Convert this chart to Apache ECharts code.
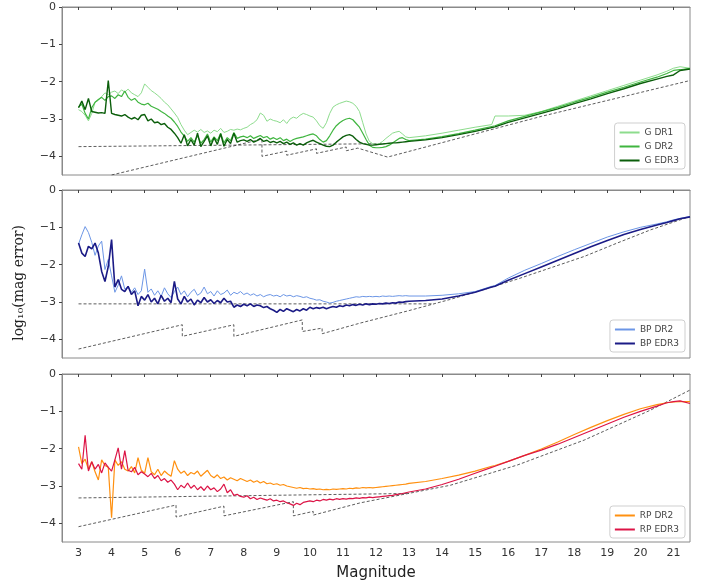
<!DOCTYPE html>
<html>
<head>
<meta charset="utf-8">
<script src="https://cdn.jsdelivr.net/npm/echarts@6/dist/echarts.min.js"></script>
<style>
  html, body { margin: 0; padding: 0; background: #fff; }
  #chart { width: 708px; height: 583px; }
</style>
</head>
<body>
<div id="chart"></div>
<script>
// magnitude grid shared by all curves
var mags = [
  3.0, 3.1, 3.2, 3.3, 3.4, 3.5, 3.6, 3.7, 3.8, 3.9,
  4.0, 4.1, 4.2, 4.3, 4.4, 4.5, 4.6, 4.7, 4.8, 4.9,
  5.0, 5.1, 5.2, 5.3, 5.4, 5.5, 5.6, 5.7, 5.8, 5.9,
  6.0, 6.1, 6.2, 6.3, 6.4, 6.5, 6.6, 6.7, 6.8, 6.9,
  7.0, 7.1, 7.2, 7.3, 7.4, 7.5, 7.6, 7.7, 7.8, 7.9,
  8.0, 8.1, 8.2, 8.3, 8.4, 8.5, 8.6, 8.7, 8.8, 8.9,
  9.0, 9.1, 9.2, 9.3, 9.4, 9.5, 9.6, 9.7, 9.8, 9.9,
  10.0, 10.1, 10.2, 10.3, 10.4, 10.5, 10.6, 10.7, 10.8, 10.9,
  11.0, 11.1, 11.2, 11.3, 11.4, 11.5, 11.6, 11.7, 11.8, 11.9,
  12.0, 12.1, 12.2, 12.3, 12.4, 12.5, 12.6, 12.7, 12.8, 12.9,
  13.0,
  13.5, 14, 14.5, 15, 15.5, 15.6, 16, 16.5, 17, 17.5, 18, 18.5, 19, 19.5, 20, 20.5, 20.8, 21, 21.2, 21.5
];

// G band
var gDR1 = [
  -2.75, -2.80, -2.90, -3.05, -2.85, -2.55, -2.50, -2.40, -2.30, -2.35,
  -2.28, -2.25, -2.32, -2.22, -2.28, -2.20, -2.30, -2.35, -2.40, -2.30,
  -2.06, -2.15, -2.24, -2.30, -2.37, -2.45, -2.55, -2.62, -2.73, -2.84,
  -2.96, -3.15, -3.30, -3.42, -3.36, -3.30, -3.35, -3.28, -3.36, -3.32,
  -3.38, -3.30, -3.34, -3.25, -3.36, -3.33, -3.28, -3.30, -3.27, -3.29,
  -3.25, -3.22, -3.15, -3.10, -3.02, -2.84, -2.90, -3.06, -3.00, -3.04,
  -3.06, -3.10, -3.02, -3.12, -3.00, -2.95, -2.98, -2.90, -2.85, -2.88,
  -2.92, -2.95, -3.05, -3.18, -3.25, -3.10, -2.85, -2.68, -2.62, -2.58,
  -2.55, -2.52, -2.54, -2.58, -2.66, -2.80, -3.10, -3.40, -3.60, -3.66,
  -3.68, -3.66, -3.60, -3.52, -3.45, -3.38, -3.35, -3.33, -3.40, -3.48,
  -3.50,
  -3.45, -3.38, -3.30, -3.22, -3.15, -2.92, -2.92, -2.90, -2.80, -2.66, -2.52, -2.38, -2.24, -2.10, -1.96, -1.82, -1.72, -1.64, -1.60, -1.64
];
var gDR2 = [
  -2.68, -2.60, -2.85, -3.00, -2.70, -2.55, -2.48, -2.42, -2.50, -2.40,
  -2.38, -2.45, -2.35, -2.40, -2.25, -2.42, -2.50, -2.45, -2.55, -2.60,
  -2.62, -2.58, -2.66, -2.70, -2.74, -2.80, -2.85, -2.92, -2.98, -3.08,
  -3.20, -3.35, -3.46, -3.60, -3.50, -3.62, -3.45, -3.65, -3.55, -3.40,
  -3.62, -3.48, -3.58, -3.38, -3.64, -3.50, -3.58, -3.36, -3.52, -3.48,
  -3.46, -3.50, -3.45, -3.52, -3.48, -3.44, -3.50, -3.47, -3.54, -3.50,
  -3.55, -3.50, -3.58, -3.54, -3.60, -3.55, -3.52, -3.50, -3.48, -3.45,
  -3.42, -3.40, -3.45, -3.55, -3.62, -3.58, -3.45, -3.30, -3.18, -3.10,
  -3.04, -3.00, -2.98, -3.02, -3.12, -3.22, -3.38, -3.55, -3.70, -3.76,
  -3.77, -3.77, -3.76, -3.74, -3.70, -3.64, -3.58, -3.52, -3.50, -3.55,
  -3.58,
  -3.54, -3.47, -3.39, -3.30, -3.20, -3.18, -3.05, -2.93, -2.81, -2.69, -2.55, -2.42, -2.28, -2.15, -2.01, -1.88, -1.78, -1.70, -1.68, -1.64
];
var gEDR3 = [
  -2.70, -2.52, -2.75, -2.45, -2.80, -2.82, -2.84, -2.83, -2.85, -1.97,
  -2.85, -2.88, -2.90, -2.92, -2.88, -2.95, -3.00, -2.96, -3.02, -2.90,
  -2.88, -3.05, -3.00, -3.10, -3.08, -3.15, -3.12, -3.22, -3.28, -3.38,
  -3.50, -3.65, -3.42, -3.72, -3.55, -3.70, -3.38, -3.74, -3.60, -3.45,
  -3.72, -3.50, -3.68, -3.40, -3.73, -3.55, -3.66, -3.38, -3.62, -3.58,
  -3.56, -3.60, -3.55, -3.62, -3.58, -3.52, -3.60, -3.57, -3.63, -3.60,
  -3.64, -3.60, -3.66, -3.62, -3.68, -3.64, -3.70, -3.66, -3.70, -3.64,
  -3.60, -3.57, -3.62, -3.66, -3.70, -3.73, -3.74, -3.70, -3.62, -3.55,
  -3.48, -3.44, -3.42, -3.46, -3.55, -3.62, -3.66, -3.68, -3.70, -3.70,
  -3.69, -3.68, -3.67, -3.66, -3.65, -3.64, -3.64, -3.63, -3.62, -3.61,
  -3.60,
  -3.56, -3.50, -3.42, -3.33, -3.23, -3.21, -3.09, -2.97, -2.85, -2.73, -2.59, -2.46, -2.32, -2.19, -2.05, -1.93, -1.86, -1.82, -1.70, -1.66
];

// BP band
var bpDR2 = [
  -1.45, -1.20, -0.98, -1.14, -1.40, -1.75, -1.50, -1.37, -2.13, -1.86,
  -2.30, -2.74, -2.55, -2.30, -2.66, -2.58, -2.74, -2.62, -2.80, -2.70,
  -2.12, -2.74, -2.65, -2.82, -2.70, -2.85, -2.62, -2.78, -2.88, -2.72,
  -2.60, -2.80, -2.70, -2.86, -2.74, -2.66, -2.82, -2.76, -2.60, -2.78,
  -2.72, -2.84, -2.70, -2.80, -2.76, -2.68, -2.82, -2.74, -2.78, -2.72,
  -2.80, -2.76, -2.82, -2.78, -2.84, -2.80, -2.86, -2.82, -2.80, -2.84,
  -2.82, -2.86, -2.80, -2.84, -2.82, -2.86, -2.83, -2.85, -2.88, -2.86,
  -2.90, -2.92, -2.95, -2.94, -2.98, -3.00, -3.03, -3.01, -2.98, -2.96,
  -2.94, -2.92, -2.90, -2.88, -2.86, -2.87, -2.85, -2.86, -2.85, -2.86,
  -2.85, -2.86, -2.84, -2.85, -2.84, -2.85, -2.84, -2.83, -2.84, -2.83,
  -2.84,
  -2.84, -2.82, -2.78, -2.72, -2.58, -2.56, -2.36, -2.15, -1.97, -1.78, -1.60, -1.43, -1.26, -1.12, -1.00, -0.91, -0.85, -0.80, -0.76, -0.71
];
var bpEDR3 = [
  -1.42, -1.69, -1.78, -1.51, -1.58, -1.42, -1.69, -2.18, -2.45, -2.05,
  -1.33, -2.60, -2.40, -2.66, -2.72, -2.58, -2.80, -2.70, -3.10, -2.85,
  -2.95, -2.80, -3.00, -2.90, -3.05, -2.82, -2.98, -2.90, -3.02, -2.45,
  -2.92, -3.05, -2.85, -3.00, -2.92, -3.08, -2.95, -3.02, -2.88, -3.00,
  -2.94, -3.04, -2.96, -3.02, -2.90, -3.00, -2.98, -3.14, -3.08, -3.12,
  -3.06, -3.10, -3.05, -3.12, -3.08, -3.10, -3.15, -3.12, -3.18, -3.22,
  -3.28, -3.20, -3.25, -3.18, -3.22, -3.26, -3.20, -3.24, -3.18, -3.22,
  -3.14, -3.18, -3.15, -3.17, -3.14, -3.18, -3.15, -3.12, -3.14, -3.10,
  -3.12, -3.08, -3.10, -3.07, -3.09, -3.06, -3.08, -3.05, -3.07, -3.05,
  -3.06, -3.04, -3.05, -3.03, -3.04, -3.02, -3.03, -3.00, -3.01, -2.99,
  -2.98,
  -2.96, -2.92, -2.84, -2.74, -2.60, -2.58, -2.42, -2.24, -2.06, -1.88, -1.70, -1.52, -1.35, -1.19, -1.06, -0.94, -0.87, -0.82, -0.77, -0.72
];

// RP band
var rpDR2 = [
  -1.95, -2.40, -2.28, -2.55, -2.35, -2.62, -2.84, -2.30, -2.45, -2.50,
  -3.85, -2.30, -2.45, -2.35, -2.55, -2.60, -2.48, -2.65, -2.24, -2.58,
  -2.66, -2.24, -2.62, -2.70, -2.55, -2.72, -2.60, -2.68, -2.74, -2.32,
  -2.55, -2.66, -2.60, -2.72, -2.64, -2.68, -2.60, -2.74, -2.66, -2.58,
  -2.72, -2.78, -2.70, -2.80, -2.76, -2.84, -2.78, -2.82, -2.86, -2.80,
  -2.84, -2.88, -2.84, -2.90, -2.86, -2.92, -2.88, -2.94, -2.92, -2.96,
  -2.94, -2.98, -2.96, -3.00, -3.02, -3.04, -3.06, -3.04, -3.07, -3.06,
  -3.08, -3.07, -3.09, -3.08, -3.10, -3.09, -3.10, -3.08, -3.09, -3.08,
  -3.07, -3.08, -3.06, -3.07, -3.05, -3.06, -3.04, -3.05, -3.04, -3.05,
  -3.04, -3.03, -3.02, -3.01, -3.00, -2.99, -2.98, -2.97, -2.96, -2.95,
  -2.93,
  -2.88, -2.80, -2.71, -2.60, -2.47, -2.45, -2.34, -2.18, -2.01, -1.82, -1.62, -1.43, -1.25, -1.08, -0.93, -0.82, -0.77, -0.75, -0.74, -0.74
];
var rpEDR3 = [
  -2.40, -2.55, -1.64, -2.60, -2.35, -2.55, -2.42, -2.65, -2.38, -2.50,
  -2.60, -2.30, -1.98, -2.55, -2.05, -2.58, -2.62, -2.50, -2.70, -2.62,
  -2.68, -2.75, -2.66, -2.80, -2.72, -2.86, -2.80, -2.90, -2.84, -2.95,
  -3.10, -2.98, -3.05, -2.92, -3.06, -2.98, -3.10, -3.02, -3.12, -3.00,
  -3.10, -3.05, -3.15, -3.08, -2.95, -3.18, -3.10, -3.25, -3.22, -3.28,
  -3.30, -3.26, -3.34, -3.30, -3.36, -3.32, -3.35, -3.38, -3.34, -3.40,
  -3.38, -3.42, -3.40, -3.45, -3.48, -3.52, -3.46, -3.50, -3.44, -3.42,
  -3.40, -3.42, -3.38, -3.40, -3.36, -3.38, -3.35, -3.37, -3.34, -3.36,
  -3.34, -3.35, -3.33, -3.34, -3.32, -3.33, -3.31, -3.32, -3.30, -3.31,
  -3.30, -3.29, -3.28, -3.27, -3.26, -3.25, -3.23, -3.22, -3.20, -3.18,
  -3.16,
  -3.08, -2.96, -2.82, -2.66, -2.50, -2.47, -2.34, -2.18, -2.04, -1.88, -1.70, -1.52, -1.34, -1.16, -1.00, -0.86, -0.77, -0.74, -0.72, -0.79
];

// dashed reference curves [mag, log10 err]
var gFloor = [[3, -3.74], [12.3, -3.66]];
var gSaw = [[4.0, -4.5], [8.55, -3.54], [8.55, -4.0], [9.3, -3.86], [9.3, -3.97], [10.2, -3.80],
  [10.2, -3.92], [11.1, -3.75], [11.1, -3.85], [11.45, -3.78], [12.35, -4.02], [17, -2.93], [21.5, -1.97]];
var bpFloor = [[3, -3.05], [13.7, -3.05]];
var bpSaw = [[3, -4.26], [6.14, -3.61], [6.14, -3.92], [7.7, -3.61], [7.7, -3.92], [9.77, -3.48],
  [9.77, -3.79], [10.37, -3.70], [10.37, -3.85], [11.5, -3.57], [13, -3.23], [14.25, -2.93],
  [15.25, -2.67], [16.3, -2.38], [17.3, -2.08], [18.3, -1.78], [19.3, -1.42], [20.3, -1.07], [21.5, -0.71]];
var rpFloor = [[3, -3.32], [13, -3.2]];
var rpSaw = [[3, -4.09], [5.95, -3.51], [5.95, -3.83], [7.4, -3.54], [7.4, -3.80], [9.5, -3.42],
  [9.5, -3.80], [10.1, -3.68], [10.1, -3.78], [11.53, -3.45], [14.25, -2.98], [16.27, -2.44],
  [18.3, -1.77], [20.3, -0.97], [21.5, -0.43]];

var magTicks = [3, 4, 5, 6, 7, 8, 9, 10, 11, 12, 13, 14, 15, 16, 17, 18, 19, 20, 21];
var errTicks = [0, -1, -2, -3, -4];

function pairs(vals) {
    var out = [];
    for (var i = 0; i < mags.length; i++) {
        out.push([mags[i], vals[i]]);
    }
    return out;
}

var chart = echarts.init(document.getElementById('chart'));

var panels = [{top: 7}, {top: 190}, {top: 374}];
var grids = [], xAxes = [], yAxes = [];
panels.forEach(function (p, i) {
    grids.push({
        left: 62, right: 18, top: p.top, height: 168,
        show: true, borderColor: '#8a8a8a', borderWidth: 1
    });
    xAxes.push({
        type: 'value', gridIndex: i, min: 2.5, max: 21.5,
        axisLine: {lineStyle: {color: '#8a8a8a'}},
        axisTick: {show: true, length: 3, customValues: magTicks, lineStyle: {color: '#444'}},
        axisLabel: {show: i === 2, customValues: magTicks, fontSize: 11, color: '#333', margin: 6,
            fontFamily: 'DejaVu Sans'},
        splitLine: {show: false},
        name: i === 2 ? 'Magnitude' : '',
        nameLocation: 'middle', nameGap: 24,
        nameTextStyle: {fontSize: 15, color: '#222', fontFamily: 'DejaVu Sans'}
    });
    yAxes.push({
        type: 'value', gridIndex: i, min: -4.5, max: 0,
        axisLine: {show: true, lineStyle: {color: '#8a8a8a'}},
        axisTick: {show: true, length: 3, customValues: errTicks, lineStyle: {color: '#444'}},
        axisLabel: {customValues: errTicks, fontSize: 11, color: '#333', margin: 6,
            fontFamily: 'DejaVu Sans',
            formatter: function (v) { return v < 0 ? '\u2212' + Math.abs(v) : String(v); }},
        splitLine: {show: false}
    });
});

function dashed(data, idx) {
    return {
        type: 'line', xAxisIndex: idx, yAxisIndex: idx, data: data,
        symbol: 'none', silent: true,
        lineStyle: {color: '#333', width: 0.8, type: [3, 2]}
    };
}
function curve(name, vals, idx, color, width) {
    return {
        name: name, type: 'line', xAxisIndex: idx, yAxisIndex: idx, data: pairs(vals),
        symbol: 'none', lineStyle: {color: color, width: width}, itemStyle: {color: color}
    };
}

function legendBox(names, top) {
    return {
        data: names, orient: 'vertical', right: 23, top: top,
        icon: 'rect', itemWidth: 20, itemHeight: 2, itemGap: 5,
        textStyle: {fontSize: 9, color: '#444', fontFamily: 'DejaVu Sans'},
        backgroundColor: '#fff', borderColor: '#cfcfcf', borderWidth: 1, borderRadius: 3,
        padding: [5, 6, 4, 5]
    };
}

var option = {
    animation: false,
    backgroundColor: '#fff',
    grid: grids,
    xAxis: xAxes,
    yAxis: yAxes,
    legend: [
        legendBox(['G DR1', 'G DR2', 'G EDR3'], 123),
        legendBox(['BP DR2', 'BP EDR3'], 320),
        legendBox(['RP DR2', 'RP EDR3'], 506)
    ],
    graphic: [{
        type: 'text', left: 12, top: 225, rotation: Math.PI / 2,
        style: {text: 'log\u2081\u2080(mag error)', fontSize: 14, fontFamily: 'DejaVu Serif', fill: '#222'}
    }],
    series: [
        dashed(gFloor, 0), dashed(gSaw, 0),
        curve('G DR1', gDR1, 0, '#8ddc8d', 1.0),
        curve('G DR2', gDR2, 0, '#3fb53f', 1.2),
        curve('G EDR3', gEDR3, 0, '#0b5e0b', 1.4),
        dashed(bpFloor, 1), dashed(bpSaw, 1),
        curve('BP DR2', bpDR2, 1, '#6c96e6', 1.0),
        curve('BP EDR3', bpEDR3, 1, '#1b1b86', 1.6),
        dashed(rpFloor, 2), dashed(rpSaw, 2),
        curve('RP DR2', rpDR2, 2, '#ff9010', 1.2),
        curve('RP EDR3', rpEDR3, 2, '#dc1446', 1.2)
    ]
};
chart.setOption(option);
</script>
</body>
</html>
